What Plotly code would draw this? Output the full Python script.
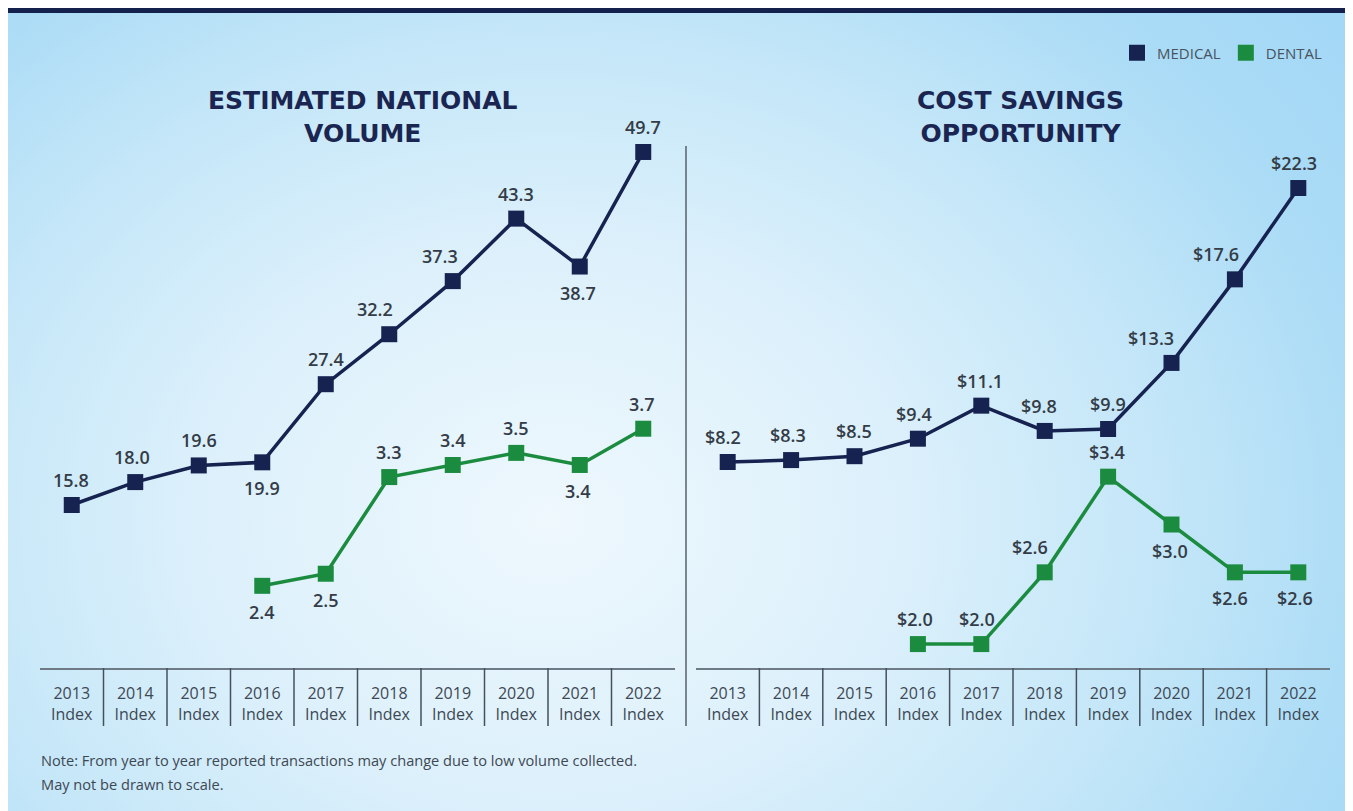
import plotly.graph_objects as go

# ---------------- data ----------------
years = ["2013", "2014", "2015", "2016", "2017", "2018", "2019", "2020", "2021", "2022"]
tick_labels = [f"{y}<br>Index" for y in years]

volume_medical = [15.8, 18.0, 19.6, 19.9, 27.4, 32.2, 37.3, 43.3, 38.7, 49.7]
volume_dental = [None, None, None, 2.4, 2.5, 3.3, 3.4, 3.5, 3.4, 3.7]

savings_medical = [8.2, 8.3, 8.5, 9.4, 11.1, 9.8, 9.9, 13.3, 17.6, 22.3]
savings_dental = [None, None, None, 2.0, 2.0, 2.6, 3.4, 3.0, 2.6, 2.6]

title_left = "ESTIMATED NATIONAL<br>VOLUME"
title_right = "COST SAVINGS<br>OPPORTUNITY"
note_lines = ["Note: From year to year reported transactions may change due to low volume collected.",
              "May not be drawn to scale."]

# ---------------- styles ----------------
NAVY = "#16224f"
GREEN = "#1b8c3f"
LABEL_COLOR = "#343c47"
AXIS_TEXT = "#3e4853"
AXIS_LINE = "#6e7a86"
PAGE_W, PAGE_H = 1353, 811
OFF = 8  # page body margin offset
W, H = PAGE_W - OFF, PAGE_H - OFF

# label placement (t = above, b = below) and small horizontal nudges
vm_pos = ["t", "t", "t", "b", "t", "t", "t", "t", "b", "t"]
vm_dx = [-1, -3, 0, 0, 0, -14, -13, 0, -2, 0]
vd_pos = [None, None, None, "b", "b", "t", "t", "t", "b", "t"]
vd_dx = [0, 0, 0, 0, 0, 0, 0, 0, -2, -1]
sm_pos = ["t"] * 10
sm_dx = [-5, -3, -1, -4, -1, -6, 0, -21, -19, -4]
sd_pos = [None, None, None, "t", "t", "t", "t", "b", "b", "b"]
sd_dx = [0, 0, 0, -3, -4, -15, -1, -2, -5, -3]


def px_x(p):
    return (p - OFF) / W


def px_y(p):
    return 1 - (p - OFF) / H


fig = go.Figure()

# background gradient (subplot x / y in page pixel units)
fig.add_trace(go.Scatter(
    x=[-450, 1550, 1550, -450, -450], y=[-280, -280, 1320, 1320, -280],
    xaxis="x", yaxis="y", mode="lines", line=dict(width=0),
    fill="toself",
    fillgradient=dict(type="radial",
                      colorscale=[[0, "#eef8fd"], [0.35, "#dcf0fb"], [0.62, "#c3e6f8"],
                                  [0.82, "#acdcf6"], [1, "#a3d8f6"]]),
    hoverinfo="skip", showlegend=False,
))


def add_series(xa, ya, values, color, name):
    fig.add_trace(go.Scatter(
        x=years, y=values, xaxis=xa, yaxis=ya, mode="lines+markers",
        line=dict(color=color, width=3.5),
        marker=dict(symbol="square", size=16, color=color),
        connectgaps=False, showlegend=False, name=name, cliponaxis=False,
    ))


add_series("x2", "y2", volume_medical, NAVY, "MEDICAL")
add_series("x2", "y3", volume_dental, GREEN, "DENTAL")
add_series("x3", "y4", savings_medical, NAVY, "MEDICAL")
add_series("x3", "y5", savings_dental, GREEN, "DENTAL")

# legend-only traces
for nm, col in [("MEDICAL", NAVY), ("DENTAL", GREEN)]:
    fig.add_trace(go.Scatter(x=[None], y=[None], xaxis="x2", yaxis="y2", mode="markers",
                             marker=dict(symbol="square", size=16, color=col), name=nm))

annotations = []


def add_labels(xa, ya, values, pos, dx, fmt):
    for i, (v, p, d) in enumerate(zip(values, pos, dx)):
        if v is None:
            continue
        annotations.append(dict(
            x=i, y=v, xref=xa, yref=ya, text=fmt(v), showarrow=False,
            xanchor="center", yanchor="middle",
            xshift=d, yshift=25 if p == "t" else -26,
            font=dict(family="Open Sans", size=18, color=LABEL_COLOR, weight=600),
        ))


add_labels("x2", "y2", volume_medical, vm_pos, vm_dx, lambda v: f"{v:.1f}")
add_labels("x2", "y3", volume_dental, vd_pos, vd_dx, lambda v: f"{v:.1f}")
add_labels("x3", "y4", savings_medical, sm_pos, sm_dx, lambda v: f"${v:.1f}")
add_labels("x3", "y5", savings_dental, sd_pos, sd_dx, lambda v: f"${v:.1f}")

title_font = dict(family="DejaVu Sans", size=25, color="#1b2551", weight="bold")
annotations.append(dict(x=px_x(363), y=px_y(117), xref="paper", yref="paper", text=title_left,
                        showarrow=False, font=title_font, align="center",
                        xanchor="center", yanchor="middle"))
annotations.append(dict(x=px_x(1020), y=px_y(117), xref="paper", yref="paper", text=title_right,
                        showarrow=False, font=title_font, align="center",
                        xanchor="center", yanchor="middle"))
for k, line in enumerate(note_lines):
    annotations.append(dict(x=px_x(39), y=px_y(760 + 24 * k), xref="paper", yref="paper", text=line,
                            showarrow=False, xanchor="left", yanchor="middle", align="left",
                            font=dict(family="Open Sans", size=14.6, color=AXIS_TEXT)))

shapes = [
    # top navy band
    dict(type="rect", xref="paper", yref="paper", x0=0, x1=1, y0=1, y1=px_y(13),
         fillcolor="#15214d", line=dict(width=0), layer="above"),
    # central divider
    dict(type="line", xref="paper", yref="paper", x0=px_x(686), x1=px_x(686), y0=px_y(146), y1=px_y(726),
         line=dict(color="#56616d", width=1.5)),
]
for xa in ["x2", "x3"]:
    for i in range(len(years) - 1):
        shapes.append(dict(type="line", xref=xa, yref="paper", x0=i + 0.5, x1=i + 0.5,
                           y0=px_y(668), y1=px_y(726), line=dict(color="#45505c", width=1.5)))

y_dom = [px_y(668), px_y(100)]
x_common = dict(type="category", range=[-0.5, 9.5], showline=True, linecolor=AXIS_LINE, linewidth=2,
                ticks="", showgrid=False, zeroline=False, tickmode="array", tickvals=years,
                ticktext=tick_labels, tickfont=dict(family="Open Sans", size=16, color=AXIS_TEXT),
                ticklabelstandoff=10, fixedrange=True)
y_hidden = dict(visible=False, showgrid=False, zeroline=False, fixedrange=True)

fig.update_layout(
    width=W, height=H, margin=dict(l=0, r=0, t=0, b=0),
    paper_bgcolor="white", plot_bgcolor="rgba(0,0,0,0)",
    xaxis=dict(domain=[0, 1], range=[OFF, PAGE_W], visible=False, fixedrange=True),
    yaxis=dict(domain=[0, 1], range=[PAGE_H, OFF], visible=False, fixedrange=True),
    xaxis2=dict(domain=[px_x(40), px_x(675)], anchor="y2", **x_common),
    yaxis2=dict(domain=y_dom, range=[0.15, 54.69], anchor="x2", **y_hidden),
    yaxis3=dict(range=[1.72, 6.42], overlaying="y2", anchor="x2", **y_hidden),
    xaxis3=dict(domain=[px_x(696), px_x(1330)], anchor="y4", **x_common),
    yaxis4=dict(domain=y_dom, range=[-2.4, 26.83], anchor="x3", **y_hidden),
    yaxis5=dict(range=[1.80, 6.55], overlaying="y4", anchor="x3", **y_hidden),
    legend=dict(orientation="h", x=px_x(1328), xanchor="right", y=px_y(53), yanchor="middle",
                font=dict(family="Open Sans", size=15, color="#48535e"), bgcolor="rgba(0,0,0,0)",
                itemwidth=30, tracegroupgap=0),
    annotations=annotations,
    shapes=shapes,
    showlegend=True,
)

fig.write_html("out.html")
